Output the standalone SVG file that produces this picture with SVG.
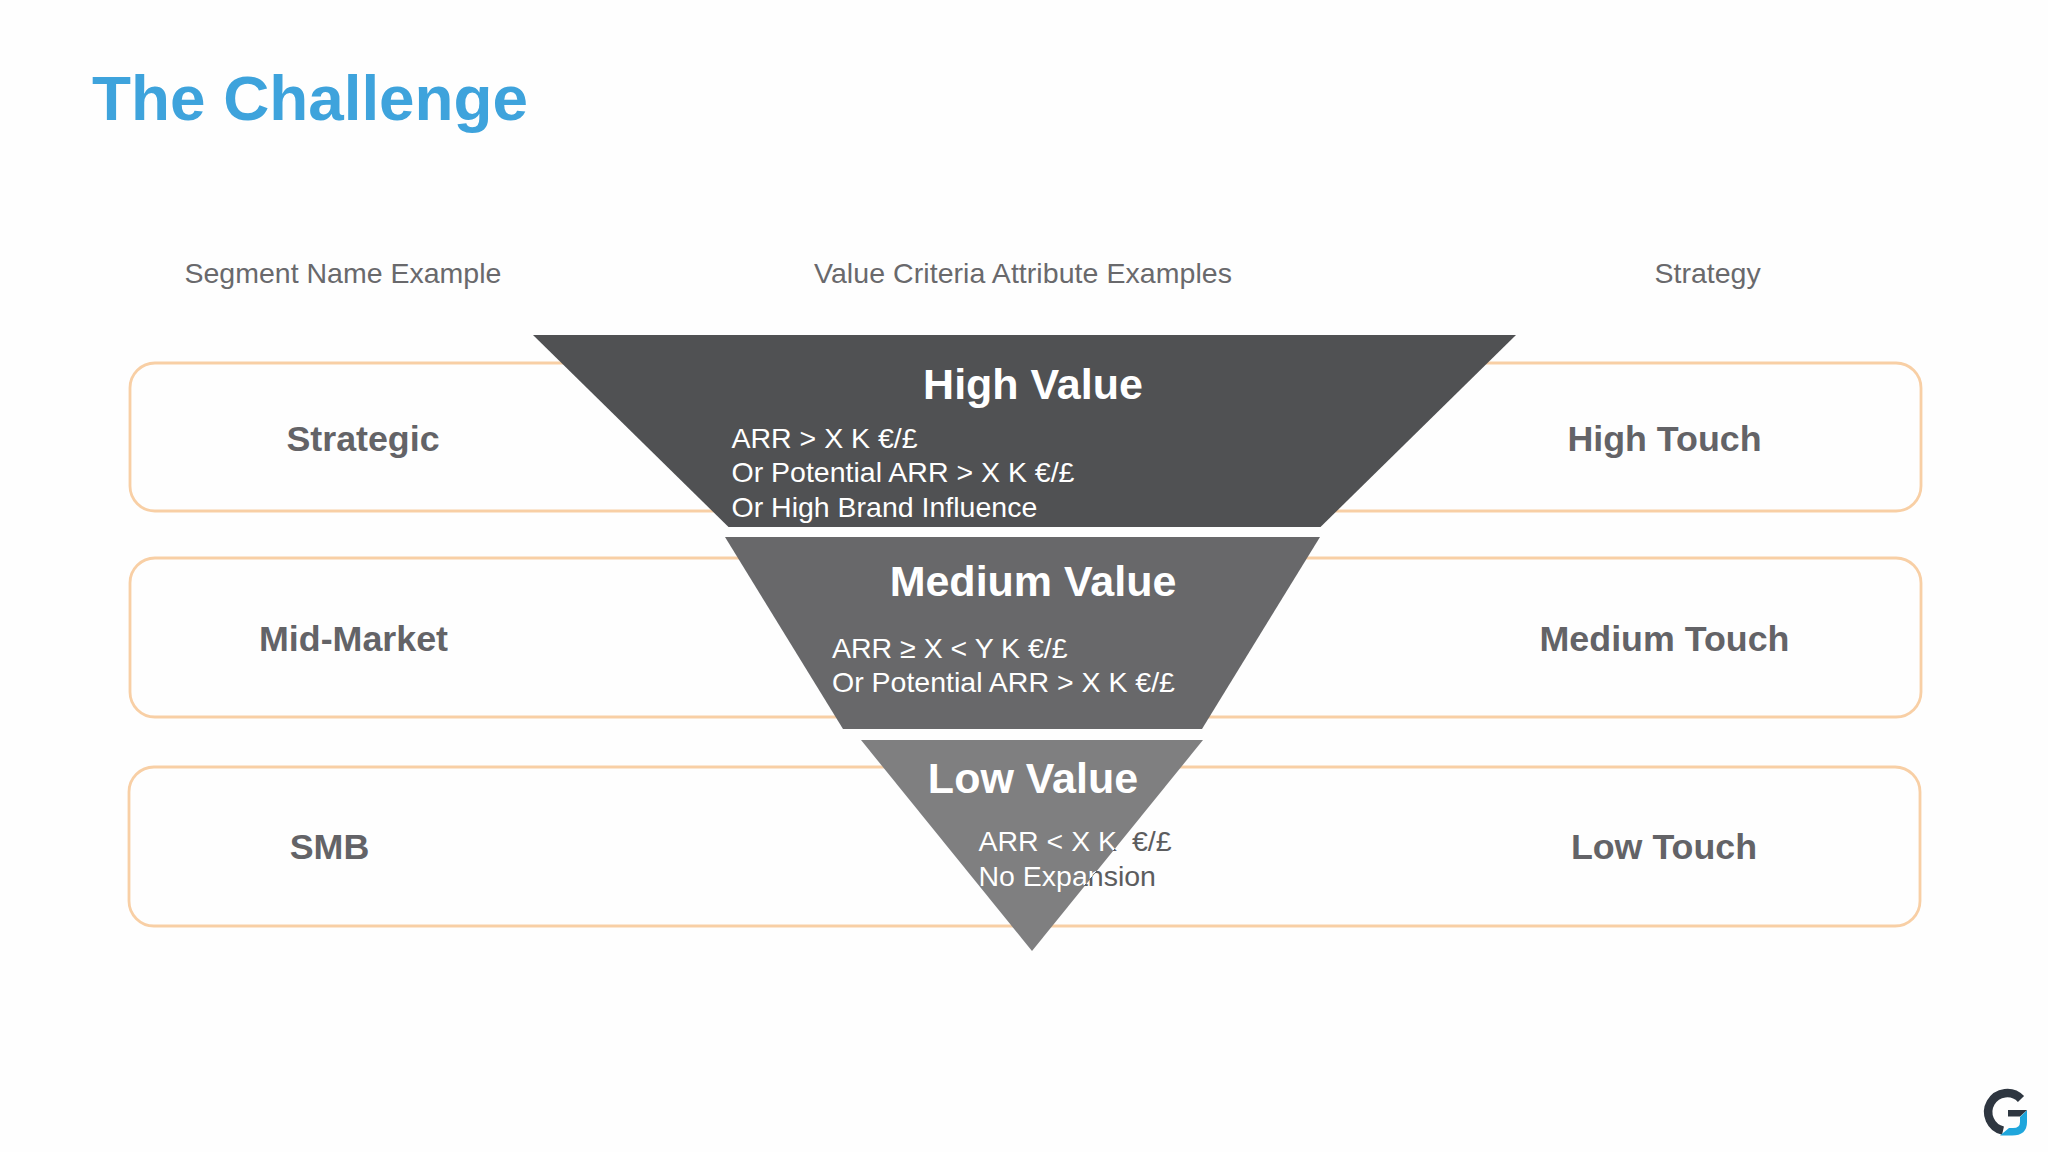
<svg xmlns="http://www.w3.org/2000/svg" width="2048" height="1152" viewBox="0 0 2048 1152">
<style>
text{font-family:"Liberation Sans",Arial,sans-serif}
.title{font-size:63.800px;font-weight:700;fill:#3ea3dc}
.head{font-size:28.500px;fill:#69696c}
.box{fill:none;stroke:#f8cfa5;stroke-width:2.800}
.lab{font-size:35.800px;font-weight:700;fill:#636367;text-anchor:middle}
.val{font-size:43px;font-weight:700;fill:#fff;text-anchor:middle}
.body{font-size:28.500px;fill:#fff}
</style>
<defs>
<linearGradient id="lowText" gradientUnits="userSpaceOnUse" x1="1031" y1="951" x2="1242" y2="1123">
<stop offset="0" stop-color="#fff"/><stop offset="0" stop-color="#5c5c5e"/>
</linearGradient>
</defs>
<rect width="2048" height="1152" fill="#fefefe"/>
<text class="title" x="92" y="120">The Challenge</text>
<text class="head" x="184.500" y="283">Segment Name Example</text>
<text class="head" x="814" y="283" textLength="418">Value Criteria Attribute Examples</text>
<text class="head" x="1654.500" y="283">Strategy</text>
<g id="row-strategic"><rect class="box" x="130" y="363" width="1791" height="148" rx="25"/><text class="lab" x="363" y="451">Strategic</text><text class="lab" x="1664.500" y="451">High Touch</text></g>
<g id="row-mid"><rect class="box" x="130" y="558" width="1791" height="159" rx="25"/><text class="lab" x="353.500" y="651">Mid-Market</text><text class="lab" x="1664.500" y="651">Medium Touch</text></g>
<g id="row-smb"><rect class="box" x="129" y="767" width="1791" height="159" rx="25"/><text class="lab" x="329.500" y="859">SMB</text><text class="lab" x="1664" y="859">Low Touch</text></g>
<g id="high-value"><polygon points="533,335 1516,335 1320.500,527 728.500,527" fill="#505153"/><text class="val" x="1033" y="398.500">High Value</text><text class="body" x="731.500" y="448">ARR &gt; X K €/£</text><text class="body" x="731.500" y="482">Or Potential ARR &gt; X K €/£</text><text class="body" x="731.500" y="517">Or High Brand Influence</text></g>
<g id="medium-value"><polygon points="725,537 1320,537 1202,729 843,729" fill="#68686a"/><text class="val" x="1033" y="596">Medium Value</text><text class="body" x="832" y="658">ARR ≥ X &lt; Y K €/£</text><text class="body" x="832" y="692">Or Potential ARR &gt; X K €/£</text></g>
<g id="low-value"><polygon points="861,740 1203,740 1032,951" fill="#7f7f80"/><text class="val" x="1033" y="793">Low Value</text><text class="body" x="978.500" y="851" style="fill:url(#lowText)">ARR &lt; X K <tspan x="1132">€/£</tspan></text><text class="body" x="978.500" y="886" style="fill:url(#lowText)">No Expansion</text></g>
<g id="connectors"/>
<g id="logo"><path d="M2021 1099A19 19 0 1 0 2003 1130.600" fill="none" stroke="#2e3640" stroke-width="8.500"/><path d="M2000 1135.500L2009 1128H2013Q2020 1128 2020 1122V1117L2027 1110V1122Q2027 1135.500 2012 1135.500Z" fill="#1fa6dc"/><path d="M2008 1110H2027L2020 1116.500H2008Z" fill="#2e3640"/></g>
</svg>
